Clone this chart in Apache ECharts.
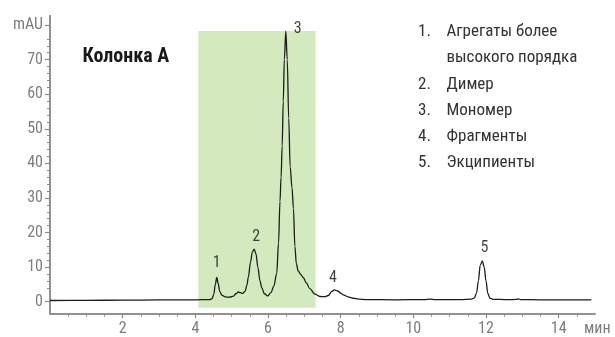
<!DOCTYPE html>
<html><head><meta charset="utf-8">
<script src="https://cdn.jsdelivr.net/npm/echarts@6/dist/echarts.min.js"></script>
<style>html,body{margin:0;padding:0;background:#fff}#c{width:615px;height:337px}</style>
</head><body><div id="c"></div>
<script>
// ---- data ----
const timeMin = [0,1,2,3,4,4.40,4.46,4.51,4.55,4.59,4.63,4.67,4.73,4.82,4.95,5.05,5.12,5.18,5.24,5.30,5.37,5.42,5.46,5.52,5.57,5.62,5.67,5.72,5.78,5.83,5.90,5.99,6.08,6.16,6.24,6.29,6.33,6.36,6.39,6.42,6.45,6.49,6.53,6.57,6.61,6.66,6.70,6.74,6.78,6.83,6.90,6.97,7.05,7.15,7.29,7.43,7.56,7.66,7.75,7.83,7.92,8.00,8.07,8.20,8.35,8.50,8.72,9.5,10.3,10.46,10.6,11.3,11.6,11.68,11.74,11.79,11.84,11.90,11.95,12.00,12.05,12.11,12.2,12.6,12.84,12.89,12.95,13.5,14.9];
const absorbance = [0.35,0.4,0.45,0.5,0.55,0.6,0.9,2.2,5.0,7.0,5.2,3.0,1.9,1.4,1.3,1.6,2.3,2.8,2.6,2.4,3.0,4.8,7.2,11.5,14.4,15.2,13.8,10.0,6.0,4.0,2.3,1.7,2.6,4.5,8.2,17,29,36,45,58,70,78.3,70,53,39,33,27,16,11,8.9,7.9,7.0,5.5,3.8,2.2,1.5,1.45,1.8,2.9,3.4,3.1,2.5,2.0,1.4,1.0,0.75,0.6,0.55,0.6,0.75,0.6,0.6,0.75,1.1,2.5,6.0,10.5,11.8,10.0,6.0,2.4,1.0,0.7,0.6,0.65,0.8,0.6,0.55,0.5];
const peakNumbers = ['1','2','3','4','5'];
const peakTimes = [4.59,5.62,6.49,7.83,11.90];
const peakHeights = [7.0,15.2,78.3,3.4,11.8];
const bandRange = [4.08, 7.31];
const xTickValues = [2,4,6,8,10,12,14];
const yTickValues = [0,10,20,30,40,50,60,70,80];
const yUnit = 'mAU';
const xUnit = 'мин';
const panelTitle = 'Колонка А';
const legendNumbers = ['1.','2.','3.','4.','5.'];
const legendNames = ['Агрегаты более\nвысокого порядка','Димер','Мономер','Фрагменты','Экципиенты'];

// ---- layout ----
const FONT = "'Roboto Condensed','Liberation Sans Narrow','DejaVu Sans Condensed','Roboto',sans-serif";
const axisColor = '#8a8a8a';
const labelColor = '#7d7d7d';
const yMin = -3.44, yMaxAxis = 82.7, yMaxData = 83.77;
const xMin = 0, xMax = 15;
const xMinor = [], yMinor = [];
for (let v = 0.5; v < xMax; v += 0.5) if (xTickValues.indexOf(v) < 0) xMinor.push(v);
for (let v = 0; v <= 80; v += 2) if (yTickValues.indexOf(v) < 0) yMinor.push(v);

const lineData = timeMin.map((t,i)=>[t, absorbance[i]]);
const labelOffsets = [[0,-14],[2,-12.5],[12,-1.5],[-1.5,-12],[2,-12.5]];
const peakData = peakTimes.map((t,i)=>({
  value:[t, peakHeights[i]],
  label:{formatter: peakNumbers[i], offset: labelOffsets[i]}
}));

const legendGraphics = [];
let ly = 31.7;
legendNumbers.forEach((n,i)=>{
  legendGraphics.push({type:'text', x:418, y:ly, style:{text:n, font:'17px '+FONT, fill:'#333', verticalAlign:'middle'}});
  const lines = legendNames[i].split('\n');
  lines.forEach((ln,j)=>{
    legendGraphics.push({type:'text', x:446.5, y:ly, style:{text:ln, font:'17px '+FONT, fill:'#333', verticalAlign:'middle'}});
    ly += 26.3;
  });
});

const axisLineStyle = {show:true, onZero:false, lineStyle:{color:axisColor, width:1.5}};
const chart = echarts.init(document.getElementById('c'), null, {renderer:'canvas'});
const gridBase = {left:50, right:20, bottom:23.4};
chart.setOption({
  animation:false,
  backgroundColor:'#fff',
  grid:[
    Object.assign({top:12}, gridBase),
    Object.assign({top:15.7}, gridBase)
  ],
  xAxis:[
    {type:'value', gridIndex:0, min:xMin, max:xMax, show:false},
    {type:'value', gridIndex:1, min:xMin, max:xMax, position:'bottom',
      axisLine:axisLineStyle, splitLine:{show:false},
      axisLabel:{show:true, customValues:xMinor, color:'rgba(255,255,255,0)', fontSize:8, hideOverlap:false},
      axisTick:{show:true, customValues:xMinor, length:3, lineStyle:{color:axisColor, width:1}}
    },
    {type:'value', gridIndex:1, min:xMin, max:xMax, position:'bottom',
      axisLine:axisLineStyle,
      axisTick:{show:true, customValues:xTickValues, length:4.5, lineStyle:{color:axisColor, width:1.2}},
      axisLabel:{customValues:xTickValues, margin:7, color:labelColor, fontSize:16, fontFamily:FONT},
      splitLine:{show:false},
      name:xUnit, nameLocation:'end', nameGap:-11,
      nameTextStyle:{color:labelColor, fontSize:16, fontFamily:FONT, verticalAlign:'top', padding:[7,0,0,0]}
    }
  ],
  yAxis:[
    {type:'value', gridIndex:0, min:yMin, max:yMaxData, show:false},
    {type:'value', gridIndex:1, min:yMin, max:yMaxAxis, position:'left',
      axisLine:axisLineStyle, splitLine:{show:false},
      axisLabel:{show:true, customValues:yMinor, color:'rgba(255,255,255,0)', fontSize:8, hideOverlap:false},
      axisTick:{show:true, customValues:yMinor, length:3, lineStyle:{color:axisColor, width:1}}
    },
    {type:'value', gridIndex:1, min:yMin, max:yMaxAxis, position:'left',
      axisLine:axisLineStyle,
      axisTick:{show:true, customValues:yTickValues, length:5, lineStyle:{color:axisColor, width:1.2}},
      axisLabel:{customValues:yTickValues, margin:7, color:labelColor, fontSize:16, fontFamily:FONT,
        formatter:v=> v===80 ? yUnit : String(v)},
      splitLine:{show:false}
    }
  ],
  series:[
    {type:'line', xAxisIndex:0, yAxisIndex:0, data:lineData, showSymbol:false,
      smooth:0.35, smoothMonotone:'x',
      lineStyle:{color:'#1c1c1c', width:1.3},
      markArea:{silent:true, itemStyle:{color:'#d5e9bf'},
        data:[[{xAxis:bandRange[0], yAxis:-1.75},{xAxis:bandRange[1], yAxis:'max'}]]},
      z:3
    },
    {type:'scatter', xAxisIndex:0, yAxisIndex:0, data:peakData, symbolSize:0,
      label:{show:true, position:'inside', color:'#111', fontSize:16, fontFamily:FONT}, z:4}
  ],
  graphic:[
    {type:'text', x:82.5, y:57, style:{text:panelTitle, font:'bold 20px '+FONT, fill:'#1a1a1a', verticalAlign:'middle'}}
  ].concat(legendGraphics)
});
</script></body></html>
